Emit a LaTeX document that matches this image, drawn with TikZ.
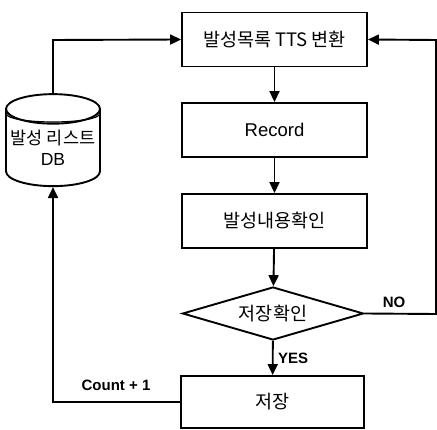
\documentclass[tikz,border=0pt]{standalone}
\usepackage{fontspec}
\setmainfont{Liberation Sans}
\newfontfamily\kr{Noto Sans CJK KR}
\usetikzlibrary{shapes.geometric,arrows.meta}
\begin{document}
\begin{tikzpicture}[x=1pt,y=1pt,
  line width=1.9pt,
  every node/.style={font=\fontsize{18.5}{21}\selectfont},
  procbox/.style={draw, rectangle, minimum width=185pt, minimum height=54pt, inner sep=0pt},
  decision/.style={draw, diamond, minimum width=181pt, minimum height=53pt, aspect=3.4, inner sep=0pt},
  flow/.style={-{Triangle[length=11pt,width=10pt]}},
  lbl/.style={font=\fontsize{15}{17}\selectfont\bfseries}]
\useasboundingbox (0,0) rectangle (437,-430);

% main column of steps
\node[procbox] (tts) at (274.5,-39.5) {\kr 발성목록 TTS 변환};
\node[procbox] (rec) at (274.5,-130) {Record};
\node[procbox] (chk) at (274.5,-221) {\kr 발성내용확인};
\node[decision] (dec) at (273,-313.5) {\kr 저장확인};
\node[procbox, minimum width=183pt, minimum height=52pt] (save) at (272.5,-402) {\kr 저장};

% utterance list database
\node[draw, cylinder, shape border rotate=90, aspect=0.35,
      minimum width=94pt, minimum height=92pt, inner sep=0pt,
      font=\fontsize{17.5}{21}\selectfont, align=center] (db) at (53,-148)
  {\kr 발성 리스트\\DB};
\draw[line width=1.2pt] ([shift={(-46.5pt,34pt)}]db.center)
  arc[start angle=180, end angle=360, x radius=46.5pt, y radius=8pt];

% corners of the routed connectors
\coordinate (tl) at (53,-40);
\coordinate (bl) at (53,-402);
\coordinate (br) at (436,-314);
\coordinate (tr) at (436,-40);

% connectors
\draw[flow] (tts) -- (rec);
\draw[flow] (rec) -- (chk);
\draw[flow] (chk) -- (dec);
\draw[flow] (dec) -- node[lbl, right, xshift=1pt] {YES} (save);
\draw[flow] (dec.east) -- (br) -- (tr) -- (tts.east);
\draw[flow] (db.top) -- (tl) -- (tts.west);
\draw[flow] (save.west) -- (bl) -- (db.bottom);

% branch labels
\node[lbl] (nolbl) at (394,-302) {NO};
\node[lbl] (cnt) at (116,-385) {Count + 1};
\end{tikzpicture}
\end{document}
